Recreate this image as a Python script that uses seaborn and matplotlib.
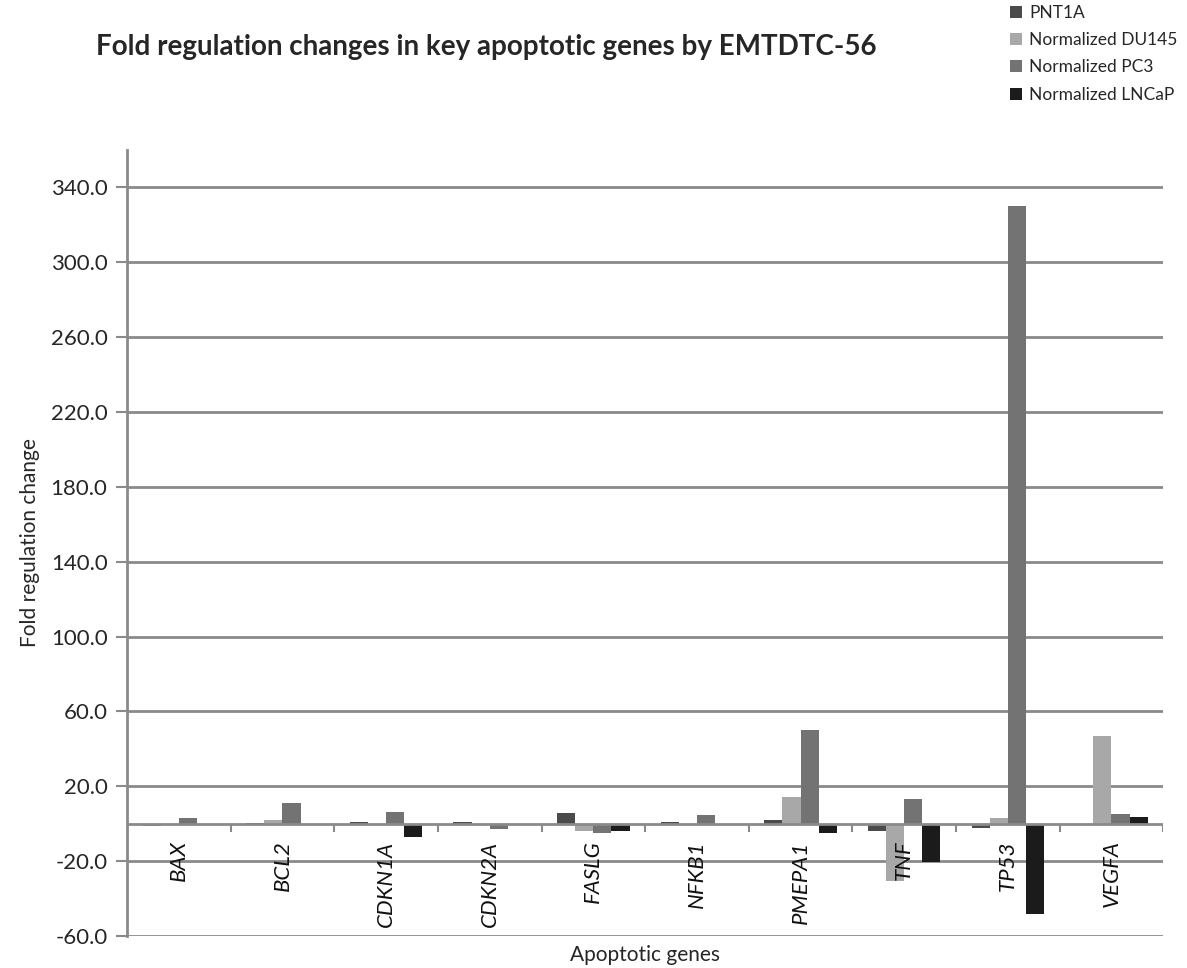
import numpy as np
import pandas as pd
import matplotlib
matplotlib.use("Agg")
import matplotlib.pyplot as plt
import seaborn as sns

genes = ["BAX", "BCL2", "CDKN1A", "CDKN2A", "FASLG", "NFKB1", "PMEPA1", "TNF", "TP53", "VEGFA"]
series = ["PNT1A", "Normalized DU145", "Normalized PC3", "Normalized LNCaP"]
pnt1a = [-1.4, 0.5, 0.9, 0.7, 5.5, 1.0, 2.1, -4.1, -2.0, -0.7]
du145 = [0.0, 2.1, 0.0, 0.0, -4.1, 0.0, 14.2, -30.4, 3.2, 46.9]
pc3 = [3.2, 11.0, 6.4, -2.6, -5.0, 4.8, 50.1, 13.5, 330.0, 5.2]
lncap = [0.0, 0.0, -6.9, 0.0, -3.7, 0.0, -5.0, -20.6, -48.2, 3.7]
yticks = [-60, -20, 20, 60, 100, 140, 180, 220, 260, 300, 340]
colors = ["#4b4b4b", "#a8a8a8", "#737373", "#1b1b1b"]

rows = []
for s, vals in zip(series, [pnt1a, du145, pc3, lncap]):
    for g, v in zip(genes, vals):
        rows.append({"gene": g, "series": s, "value": v})
df = pd.DataFrame(rows)

sns.set_style("white")
plt.rcParams["font.family"] = ["Lato", "DejaVu Sans"]

fig = plt.figure(figsize=(11.87, 9.68), dpi=100)
ax = fig.add_axes([0.107, 0.033, 0.873, 0.812])

sns.barplot(data=df, x="gene", y="value", hue="series", order=genes,
            hue_order=series, palette=colors, width=0.7, linewidth=0,
            saturation=1, ax=ax, legend=True, errorbar=None)

ax.set_ylim(-60, 360)
ax.set_xlim(-0.5, len(genes) - 0.5)
ax.set_yticks(yticks)
ax.set_yticklabels([f"{t:.1f}" for t in yticks], fontsize=16)
ax.yaxis.grid(True, color="#8a8a8a", linewidth=2)
ax.set_axisbelow(True)
for sp in ["top", "right", "bottom"]:
    ax.spines[sp].set_visible(False)
ax.spines["left"].set_color("#8a8a8a")
ax.spines["left"].set_linewidth(2)
ax.tick_params(axis="y", length=8, width=1.5, color="#8a8a8a", pad=6, left=True)

# zero axis line with category boundary ticks
ax.axhline(0, color="#8a8a8a", linewidth=2, zorder=3)
bounds = np.arange(len(genes) + 1) - 0.5
ax.vlines(bounds[1:], -4.5, 0, color="#8a8a8a", linewidth=1.5, zorder=3)

ax.set_xticks(range(len(genes)))
ax.set_xticklabels([])
ax.tick_params(axis="x", length=0)
for i, g in enumerate(genes):
    ax.text(i, -9, g, rotation=90, ha="center", va="top", fontsize=16,
            style="italic", color="#111111")

ax.set_xlabel("Apoptotic genes", fontsize=15)
ax.xaxis.set_label_coords(0.5, -0.012)
ax.xaxis.label.set_va("top")
ax.set_ylabel("Fold regulation change", fontsize=15, labelpad=8)

fig.text(0.41, 0.951, "Fold regulation changes in key apoptotic genes by EMTDTC-56",
         ha="center", va="center", fontsize=20, fontweight="bold")

handles, labels = ax.get_legend_handles_labels()
ax.legend(handles, labels, loc="upper right", bbox_to_anchor=(0.992, 0.995),
          bbox_transform=fig.transFigure, frameon=False, fontsize=12.5,
          handlelength=0.7, handleheight=0.7, handletextpad=0.4,
          labelspacing=0.65, borderaxespad=0, borderpad=0)

fig.savefig("out.png", dpi=100)
